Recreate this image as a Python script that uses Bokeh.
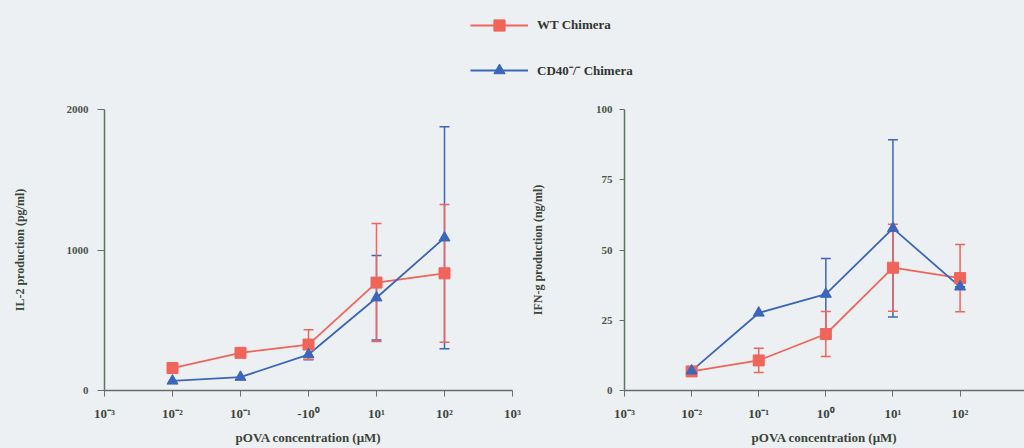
from bokeh.plotting import figure
from bokeh.models import (ColumnDataSource, Whisker, TeeHead, FixedTicker,
                          CustomJSTickFormatter, Range1d, Legend, LegendItem)
from bokeh.layouts import column, row
from bokeh.embed import file_html
from bokeh.resources import INLINE

# ---------------- data ----------------
conc = [1e-2, 1e-1, 1e0, 1e1, 1e2]          # pOVA concentration (uM)

il2_wt = [160, 268, 327, 768, 834]
il2_wt_err = [None, None, 105, 420, 490]
il2_cd40 = [68, 95, 256, 660, 1087]
il2_cd40_err = [None, None, 38, 300, 790]

ifn_wt = [6.8, 10.7, 20.1, 43.7, 40.0]
ifn_wt_err = [None, 4.3, 8.0, 15.5, 12.0]
ifn_cd40 = [7.0, 27.6, 34.3, 57.7, 36.9]
ifn_cd40_err = [None, None, 12.7, 31.5, 0.0]

x_ticks = [1e-3, 1e-2, 1e-1, 1e0, 1e1, 1e2, 1e3]
x_labels_left = ["10⁻³", "10⁻²", "10⁻¹", "-10⁰", "10¹", "10²", "10³"]
x_labels_right = ["10⁻³", "10⁻²", "10⁻¹", "10⁰", "10¹", "10²", "10³"]
il2_ticks = [0, 1000, 2000]
ifn_ticks = [0, 25, 50, 75, 100]

series_names = ["WT Chimera", "CD40⁻/⁻ Chimera"]

# ---------------- style ----------------
BG = "#edf0f2"
RED = "#f0655a"
BLUE = "#3b66bb"
FONT = "Liberation Serif"
TXT = "#3a463a"


def fmt(labels):
    return CustomJSTickFormatter(args=dict(vals=x_ticks, labs=labels), code="""
        const e = Math.log10(tick);
        for (let i = 0; i < vals.length; i++) {
            if (Math.abs(Math.log10(vals[i]) - e) < 1e-6) return labs[i];
        }
        return "";
    """)


def panel(width, height, bl, br, xr_end, ymax, yticks, ylabel, xlabels,
          wt, wt_err, cd, cd_err, ylab_standoff, ytick_out, ytick_standoff):
    p = figure(width=width, height=height, x_axis_type="log",
               x_range=Range1d(1e-3, xr_end), y_range=Range1d(0, ymax),
               output_backend="svg", toolbar_location=None,
               min_border_left=bl, min_border_right=br,
               min_border_top=13, min_border_bottom=58)
    p.background_fill_color = BG
    p.border_fill_color = BG
    p.outline_line_color = None
    p.grid.visible = False

    # error bars
    for vals, errs, col in ((cd, cd_err, BLUE), (wt, wt_err, RED)):
        xs, lo, hi = [], [], []
        for x, v, e in zip(conc, vals, errs):
            if e is not None:
                xs.append(x); lo.append(v - e); hi.append(v + e)
        src = ColumnDataSource(dict(x=xs, lower=lo, upper=hi))
        w = Whisker(source=src, base="x", lower="lower", upper="upper",
                    dimension="height", line_color=col, line_width=1.5,
                    upper_head=TeeHead(size=10, line_color=col, line_width=1.5),
                    lower_head=TeeHead(size=10, line_color=col, line_width=1.5))
        p.add_layout(w)

    p.line(conc, wt, line_color=RED, line_width=1.8)
    p.line(conc, cd, line_color=BLUE, line_width=1.8)
    p.scatter(conc, wt, marker="square", size=11, fill_color=RED, line_color=RED)
    p.scatter(conc, cd, marker="triangle", size=11, fill_color=BLUE, line_color=BLUE)

    # x axis
    xa = p.xaxis[0]
    xa.ticker = FixedTicker(ticks=x_ticks)
    xa.formatter = fmt(xlabels)
    xa.axis_label = "pOVA concentration (μM)"
    xa.axis_label_text_font = FONT
    xa.axis_label_text_font_style = "bold"
    xa.axis_label_text_font_size = "13px"
    xa.axis_label_text_color = TXT
    xa.axis_label_standoff = 6
    xa.major_label_text_font = FONT
    xa.major_label_text_font_style = "bold"
    xa.major_label_text_font_size = "13px"
    xa.major_label_text_color = TXT
    xa.major_label_standoff = 9
    xa.major_tick_in = 0
    xa.major_tick_out = 6
    xa.minor_tick_in = 0
    xa.minor_tick_out = 0
    xa.axis_line_color = "#6c6c6c"
    xa.major_tick_line_color = "#6c6c6c"
    xa.axis_line_width = 1.5

    # y axis
    ya = p.yaxis[0]
    ya.ticker = FixedTicker(ticks=yticks)
    ya.axis_label = ylabel
    ya.axis_label_text_font = FONT
    ya.axis_label_text_font_style = "bold"
    ya.axis_label_text_font_size = "12px"
    ya.axis_label_text_color = TXT
    ya.axis_label_standoff = ylab_standoff
    ya.major_label_text_font = FONT
    ya.major_label_text_font_style = "bold"
    ya.major_label_text_font_size = "11px"
    ya.major_label_text_color = "#4a544a"
    ya.major_label_standoff = ytick_standoff
    ya.major_tick_in = 0
    ya.major_tick_out = ytick_out
    ya.minor_tick_in = 0
    ya.minor_tick_out = 0
    ya.axis_line_color = "#5a7560"
    ya.major_tick_line_color = "#5a7560"
    ya.axis_line_width = 1.5
    return p


p1 = panel(527, 352, 104, 15, 1e3, 2000, il2_ticks, "IL-2 production (pg/ml)",
           x_labels_left, il2_wt, il2_wt_err, il2_cd40, il2_cd40_err, 37, 7, 9)
p2 = panel(497, 352, 92, 0, 10 ** 2.96, 100, ifn_ticks, "IFN-g production (ng/ml)",
           x_labels_right, ifn_wt, ifn_wt_err, ifn_cd40, ifn_cd40_err, 48, 5, 7)

# legend strip
p0 = figure(width=1024, height=96, output_backend="svg", toolbar_location=None,
            x_range=Range1d(0, 1), y_range=Range1d(0, 1),
            x_axis_location=None, y_axis_location=None,
            min_border_left=0, min_border_right=0, min_border_top=0, min_border_bottom=0)
p0.background_fill_color = BG
p0.border_fill_color = BG
p0.outline_line_color = None
p0.grid.visible = False
r_l = p0.line(x=[-5, -4], y=[-5, -4], line_color=RED, line_width=1.8)
r_s = p0.scatter(x=[-5], y=[-5], marker="square", size=11, fill_color=RED, line_color=RED)
b_l = p0.line(x=[-5, -4], y=[-5, -4], line_color=BLUE, line_width=1.8)
b_s = p0.scatter(x=[-5], y=[-5], marker="triangle", size=11, fill_color=BLUE, line_color=BLUE)
leg = Legend(items=[LegendItem(label=series_names[0], renderers=[r_l, r_s]),
                    LegendItem(label=series_names[1], renderers=[b_l, b_s])],
             location=(470, 12), orientation="vertical",
             glyph_width=58, glyph_height=28, label_height=28, spacing=17,
             label_standoff=9, padding=0, margin=0,
             border_line_alpha=0, background_fill_alpha=0,
             label_text_font=FONT, label_text_font_style="bold",
             label_text_font_size="13px", label_text_color="#333333")
p0.add_layout(leg)

layout = column(p0, row(p1, p2, styles={"background-color": BG}),
                styles={"background-color": BG})
open("out.html", "w").write(file_html(layout, INLINE))
